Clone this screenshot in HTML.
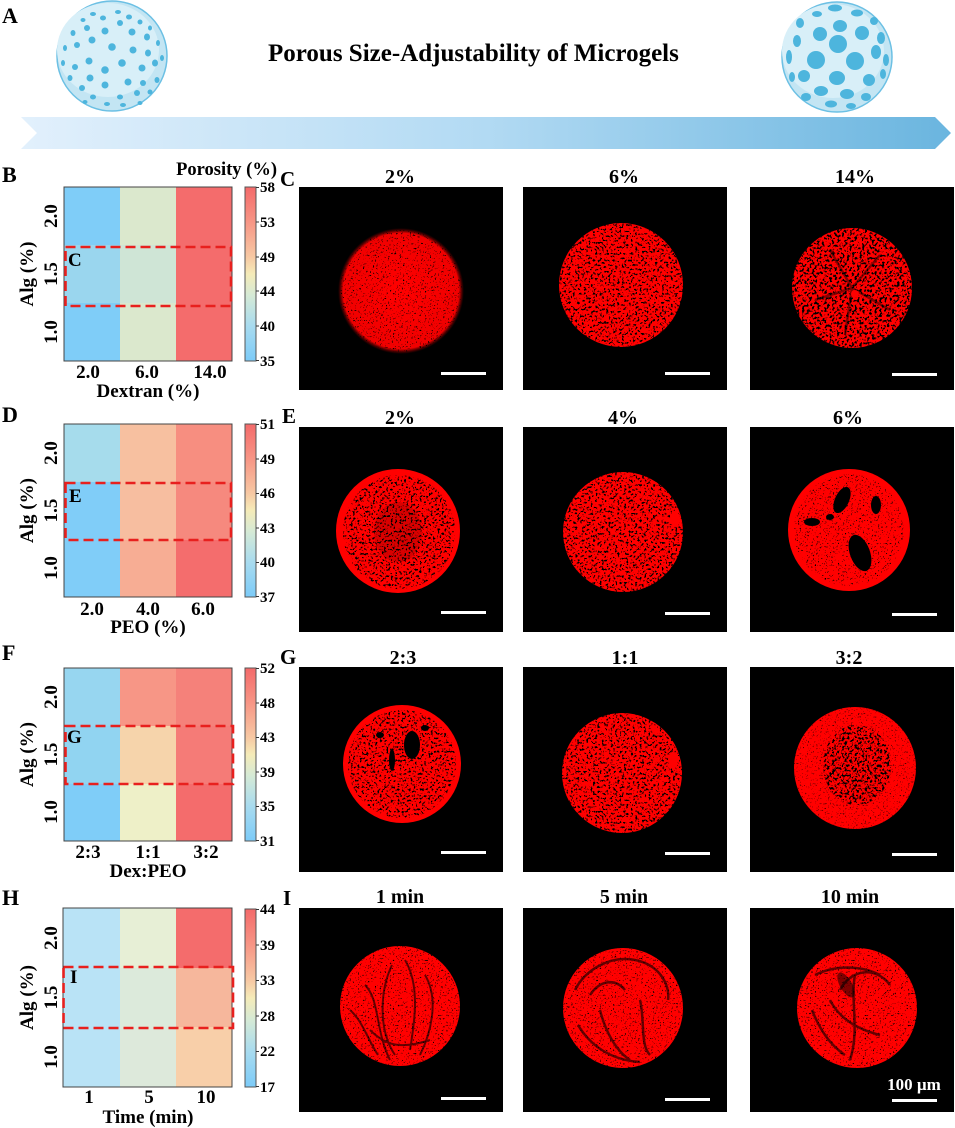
<!DOCTYPE html>
<html>
<head>
<meta charset="utf-8">
<style>
html,body{margin:0;padding:0;background:#fff;}
body{width:955px;height:1128px;overflow:hidden;}
svg{display:block;}
text{font-family:"Liberation Serif","Times New Roman",serif;font-weight:bold;}
</style>
</head>
<body>
<svg width="955" height="1128" viewBox="0 0 955 1128" xmlns="http://www.w3.org/2000/svg">
<defs>
  <linearGradient id="arrowG" x1="0" y1="0" x2="1" y2="0">
    <stop offset="0" stop-color="#e2f0fc"/>
    <stop offset="0.5" stop-color="#b2daf3"/>
    <stop offset="1" stop-color="#6ab5df"/>
  </linearGradient>
  <linearGradient id="cbar" x1="0" y1="0" x2="0" y2="1">
    <stop offset="0" stop-color="#f46a6a"/>
    <stop offset="0.2" stop-color="#f79585"/>
    <stop offset="0.4" stop-color="#f7c8a3"/>
    <stop offset="0.5" stop-color="#f5ebb8"/>
    <stop offset="0.62" stop-color="#d6ead5"/>
    <stop offset="0.8" stop-color="#a8dbef"/>
    <stop offset="1" stop-color="#7ccbf8"/>
  </linearGradient>
  <radialGradient id="fuzz" cx="0.5" cy="0.5" r="0.5">
    <stop offset="0" stop-color="#ff0000"/>
    <stop offset="0.92" stop-color="#f00000"/>
    <stop offset="1" stop-color="#800000" stop-opacity="0"/>
  </radialGradient>
  <filter id="fL" x="0" y="0" width="1" height="1">
    <feTurbulence type="fractalNoise" baseFrequency="0.6" numOctaves="2" seed="2"/>
    <feColorMatrix type="matrix" values="0 0 0 0 0 0 0 0 0 0 0 0 0 0 0 12 0 0 0 -7.8"/>
  </filter>
  <filter id="fM" x="0" y="0" width="1" height="1">
    <feTurbulence type="fractalNoise" baseFrequency="0.45" numOctaves="2" seed="5"/>
    <feColorMatrix type="matrix" values="0 0 0 0 0 0 0 0 0 0 0 0 0 0 0 12 0 0 0 -6.9"/>
  </filter>
  <filter id="fH" x="0" y="0" width="1" height="1">
    <feTurbulence type="fractalNoise" baseFrequency="0.4" numOctaves="2" seed="9"/>
    <feColorMatrix type="matrix" values="0 0 0 0 0 0 0 0 0 0 0 0 0 0 0 12 0 0 0 -6.4"/>
  </filter>
  <clipPath id="c1"><circle cx="401" cy="291" r="61"/></clipPath>
  <clipPath id="c2"><circle cx="621" cy="285" r="62"/></clipPath>
  <clipPath id="c3"><circle cx="852" cy="288" r="60"/></clipPath>
  <clipPath id="e1"><circle cx="398" cy="531" r="62"/></clipPath>
  <clipPath id="e1i"><ellipse cx="399" cy="532" rx="56" ry="57"/></clipPath>
  <clipPath id="e2"><circle cx="623" cy="532" r="60"/></clipPath>
  <clipPath id="e3"><circle cx="849" cy="530" r="61"/></clipPath>
  <clipPath id="e3i"><ellipse cx="849" cy="530" rx="55" ry="56"/></clipPath>
  <clipPath id="g1"><circle cx="402" cy="764" r="59"/></clipPath>
  <clipPath id="g1i"><ellipse cx="402" cy="764" rx="54" ry="54"/></clipPath>
  <clipPath id="g2"><circle cx="622" cy="773" r="60"/></clipPath>
  <clipPath id="g3"><circle cx="855" cy="768" r="61"/></clipPath>
  <clipPath id="g3i"><ellipse cx="857" cy="765" rx="34" ry="40"/></clipPath>
  <clipPath id="i1"><circle cx="400" cy="1006" r="60"/></clipPath>
  <clipPath id="i2"><circle cx="623" cy="1008" r="60"/></clipPath>
  <clipPath id="i3"><circle cx="857" cy="1008" r="60"/></clipPath>
</defs>

<rect width="955" height="1128" fill="#fff"/>

<!-- ============ Panel A ============ -->
<text x="2" y="23" font-size="22">A</text>
<text x="268" y="61" font-size="25">Porous Size-Adjustability of Microgels</text>
<polygon points="21,117 935,117 951,133 935,149 21,149 37,133" fill="url(#arrowG)"/>

<!-- left sphere -->
<circle cx="112" cy="56" r="55" fill="#c3e5f3" stroke="#6cc0e4" stroke-width="1.5"/>
<ellipse cx="108" cy="50" rx="51" ry="47" fill="#d8eff8"/>
<g fill="#4db5dd">
  <ellipse cx="83" cy="20" rx="2.5" ry="2"/><ellipse cx="93" cy="14" rx="3" ry="2"/><ellipse cx="103" cy="18" rx="3" ry="2.5"/>
  <ellipse cx="118" cy="12" rx="3" ry="2"/><ellipse cx="129" cy="17" rx="3" ry="2.5"/><ellipse cx="140" cy="22" rx="2.5" ry="2.5"/>
  <ellipse cx="150" cy="28" rx="2" ry="2.5"/><ellipse cx="73" cy="33" rx="2.5" ry="3"/><ellipse cx="87" cy="28" rx="3" ry="3"/>
  <ellipse cx="105" cy="31" rx="3.5" ry="3.5"/><ellipse cx="120" cy="23" rx="3" ry="3"/><ellipse cx="132" cy="32" rx="3.5" ry="3.5"/>
  <ellipse cx="147" cy="37" rx="3" ry="3.5"/><ellipse cx="158" cy="43" rx="2" ry="3"/><ellipse cx="65" cy="48" rx="2" ry="3"/>
  <ellipse cx="77" cy="45" rx="3" ry="3"/><ellipse cx="92" cy="40" rx="3.5" ry="3.5"/><ellipse cx="112" cy="47" rx="3.8" ry="3.8"/>
  <ellipse cx="133" cy="50" rx="3.5" ry="3.5"/><ellipse cx="148" cy="53" rx="3" ry="3.5"/><ellipse cx="162" cy="58" rx="2" ry="3"/>
  <ellipse cx="63" cy="63" rx="2" ry="3"/><ellipse cx="75" cy="67" rx="3" ry="3"/><ellipse cx="89" cy="61" rx="3.5" ry="3.5"/>
  <ellipse cx="105" cy="70" rx="3.8" ry="3.8"/><ellipse cx="122" cy="63" rx="3.8" ry="3.8"/><ellipse cx="142" cy="68" rx="3.5" ry="3.5"/>
  <ellipse cx="155" cy="63" rx="3" ry="3.5"/><ellipse cx="70" cy="78" rx="2.5" ry="3"/><ellipse cx="82" cy="88" rx="3" ry="3"/>
  <ellipse cx="90" cy="78" rx="3.5" ry="3.5"/><ellipse cx="105" cy="85" rx="3.5" ry="3.5"/><ellipse cx="128" cy="82" rx="3.5" ry="3.5"/>
  <ellipse cx="143" cy="83" rx="3" ry="3"/><ellipse cx="157" cy="80" rx="2.5" ry="3"/><ellipse cx="93" cy="97" rx="3" ry="2.5"/>
  <ellipse cx="120" cy="97" rx="3" ry="2.5"/><ellipse cx="137" cy="93" rx="3" ry="3"/><ellipse cx="150" cy="92" rx="2.5" ry="2.5"/>
  <ellipse cx="107" cy="104" rx="3" ry="2"/><ellipse cx="123" cy="105" rx="3" ry="2"/><ellipse cx="85" cy="102" rx="2.5" ry="2"/>
  <ellipse cx="140" cy="103" rx="2.5" ry="2"/>
</g>

<!-- right sphere -->
<circle cx="837" cy="57" r="55" fill="#c3e5f3" stroke="#6cc0e4" stroke-width="1.5"/>
<ellipse cx="833" cy="51" rx="51" ry="47" fill="#d8eff8"/>
<g fill="#4db5dd">
  <ellipse cx="835" cy="8" rx="7" ry="3.5"/><ellipse cx="817" cy="14" rx="5" ry="3"/><ellipse cx="857" cy="13" rx="6" ry="3.5"/>
  <ellipse cx="874" cy="21" rx="4" ry="4"/><ellipse cx="800" cy="23" rx="4" ry="5"/><ellipse cx="840" cy="26" rx="7" ry="6"/>
  <ellipse cx="820" cy="34" rx="7" ry="7"/><ellipse cx="862" cy="33" rx="7" ry="7"/><ellipse cx="881" cy="38" rx="4" ry="6"/>
  <ellipse cx="797" cy="41" rx="4" ry="6"/><ellipse cx="838" cy="44" rx="9" ry="9"/><ellipse cx="876" cy="52" rx="5" ry="7"/>
  <ellipse cx="789" cy="57" rx="3" ry="7"/><ellipse cx="816" cy="60" rx="9" ry="9"/><ellipse cx="855" cy="61" rx="9" ry="9"/>
  <ellipse cx="886" cy="60" rx="3" ry="6"/><ellipse cx="804" cy="76" rx="6" ry="6"/><ellipse cx="837" cy="78" rx="8" ry="7"/>
  <ellipse cx="869" cy="80" rx="6" ry="6"/><ellipse cx="883" cy="74" rx="3" ry="5"/><ellipse cx="792" cy="77" rx="3" ry="5"/>
  <ellipse cx="821" cy="91" rx="7" ry="5"/><ellipse cx="847" cy="94" rx="7" ry="5"/><ellipse cx="866" cy="97" rx="5" ry="4"/>
  <ellipse cx="806" cy="97" rx="5" ry="4"/><ellipse cx="831" cy="104" rx="6" ry="3.5"/><ellipse cx="851" cy="106" rx="5" ry="3"/>
</g>

<!-- ============ Heatmaps (left column) ============ -->
<g font-size="19">
<!-- B -->
<text x="2" y="182" font-size="22">B</text>
<text x="277" y="175" text-anchor="end" font-size="18.5">Porosity (%)</text>
<rect x="64" y="187" width="56" height="58" fill="#7fcdf8"/>
<rect x="120" y="187" width="56" height="58" fill="#dbe8cd"/>
<rect x="176" y="187" width="56" height="58" fill="#f46c6c"/>
<rect x="64" y="245" width="56" height="58" fill="#9ad6ee"/>
<rect x="120" y="245" width="56" height="58" fill="#cfe5d6"/>
<rect x="176" y="245" width="56" height="58" fill="#f46c6c"/>
<rect x="64" y="303" width="56" height="58" fill="#7fcdf8"/>
<rect x="120" y="303" width="56" height="58" fill="#dbe8cd"/>
<rect x="176" y="303" width="56" height="58" fill="#f46c6c"/>
<rect x="64" y="187" width="168" height="174" fill="none" stroke="#444" stroke-width="1"/>
<rect x="65.5" y="247" width="165.5" height="59" fill="none" stroke="#e8201e" stroke-width="2.6" stroke-dasharray="10 5"/>
<text x="68" y="266">C</text>
<text x="88" y="378" text-anchor="middle">2.0</text>
<text x="147" y="378" text-anchor="middle">6.0</text>
<text x="210" y="378" text-anchor="middle">14.0</text>
<text x="148" y="397" text-anchor="middle">Dextran (%)</text>
<text transform="translate(57,216) rotate(-90)" text-anchor="middle">2.0</text>
<text transform="translate(57,274) rotate(-90)" text-anchor="middle">1.5</text>
<text transform="translate(57,332) rotate(-90)" text-anchor="middle">1.0</text>
<text transform="translate(33,274) rotate(-90)" text-anchor="middle">Alg (%)</text>
<rect x="245" y="187" width="11" height="174" fill="url(#cbar)" stroke="#555" stroke-width="1"/>
<g stroke="#333" stroke-width="1"><line x1="256" y1="187.5" x2="259" y2="187.5"/><line x1="256" y1="222" x2="259" y2="222"/><line x1="256" y1="257" x2="259" y2="257"/><line x1="256" y1="291" x2="259" y2="291"/><line x1="256" y1="326" x2="259" y2="326"/><line x1="256" y1="360.5" x2="259" y2="360.5"/></g>
<g font-size="15"><text x="260" y="192">58</text><text x="260" y="227">53</text><text x="260" y="262">49</text><text x="260" y="296">44</text><text x="260" y="331">40</text><text x="260" y="366">35</text></g>

<!-- D -->
<text x="2" y="422" font-size="22">D</text>
<rect x="64" y="424" width="56" height="58" fill="#a6dcec"/>
<rect x="120" y="424" width="56" height="58" fill="#f7c0a0"/>
<rect x="176" y="424" width="56" height="58" fill="#f78e80"/>
<rect x="64" y="482" width="56" height="58" fill="#80cdf8"/>
<rect x="120" y="482" width="56" height="58" fill="#f7bea0"/>
<rect x="176" y="482" width="56" height="58" fill="#f6897e"/>
<rect x="64" y="540" width="56" height="57" fill="#80cdf8"/>
<rect x="120" y="540" width="56" height="57" fill="#f7ad94"/>
<rect x="176" y="540" width="56" height="57" fill="#f46d6d"/>
<rect x="64" y="424" width="168" height="173" fill="none" stroke="#444" stroke-width="1"/>
<rect x="65.5" y="483" width="165.5" height="57" fill="none" stroke="#e8201e" stroke-width="2.6" stroke-dasharray="10 5"/>
<text x="69" y="502">E</text>
<text x="92" y="615" text-anchor="middle">2.0</text>
<text x="148" y="615" text-anchor="middle">4.0</text>
<text x="203" y="615" text-anchor="middle">6.0</text>
<text x="148" y="633" text-anchor="middle">PEO (%)</text>
<text transform="translate(57,453) rotate(-90)" text-anchor="middle">2.0</text>
<text transform="translate(57,510.5) rotate(-90)" text-anchor="middle">1.5</text>
<text transform="translate(57,568) rotate(-90)" text-anchor="middle">1.0</text>
<text transform="translate(33,510.5) rotate(-90)" text-anchor="middle">Alg (%)</text>
<rect x="245" y="424" width="11" height="173" fill="url(#cbar)" stroke="#555" stroke-width="1"/>
<g stroke="#333" stroke-width="1"><line x1="256" y1="424.5" x2="259" y2="424.5"/><line x1="256" y1="459" x2="259" y2="459"/><line x1="256" y1="493.5" x2="259" y2="493.5"/><line x1="256" y1="528" x2="259" y2="528"/><line x1="256" y1="562.5" x2="259" y2="562.5"/><line x1="256" y1="596.5" x2="259" y2="596.5"/></g>
<g font-size="15"><text x="260" y="429">51</text><text x="260" y="464">49</text><text x="260" y="498">46</text><text x="260" y="533">43</text><text x="260" y="567">40</text><text x="260" y="602">37</text></g>

<!-- F -->
<text x="2" y="660" font-size="22">F</text>
<rect x="64" y="668" width="56" height="58" fill="#97d6f0"/>
<rect x="120" y="668" width="56" height="58" fill="#f79686"/>
<rect x="176" y="668" width="56" height="58" fill="#f5817a"/>
<rect x="64" y="726" width="56" height="58" fill="#91d4f1"/>
<rect x="120" y="726" width="56" height="58" fill="#f6d4ab"/>
<rect x="176" y="726" width="56" height="58" fill="#f57b77"/>
<rect x="64" y="784" width="56" height="57" fill="#7fcdf8"/>
<rect x="120" y="784" width="56" height="57" fill="#eef0c8"/>
<rect x="176" y="784" width="56" height="57" fill="#f46c6c"/>
<rect x="64" y="668" width="168" height="173" fill="none" stroke="#444" stroke-width="1"/>
<rect x="65.5" y="726" width="167.5" height="58" fill="none" stroke="#e8201e" stroke-width="2.6" stroke-dasharray="10 5"/>
<text x="67" y="743">G</text>
<text x="88" y="858" text-anchor="middle">2:3</text>
<text x="148" y="858" text-anchor="middle">1:1</text>
<text x="206" y="858" text-anchor="middle">3:2</text>
<text x="148" y="877" text-anchor="middle">Dex:PEO</text>
<text transform="translate(57,697) rotate(-90)" text-anchor="middle">2.0</text>
<text transform="translate(57,754.5) rotate(-90)" text-anchor="middle">1.5</text>
<text transform="translate(57,812) rotate(-90)" text-anchor="middle">1.0</text>
<text transform="translate(33,754.5) rotate(-90)" text-anchor="middle">Alg (%)</text>
<rect x="245" y="668" width="11" height="173" fill="url(#cbar)" stroke="#555" stroke-width="1"/>
<g stroke="#333" stroke-width="1"><line x1="256" y1="668.5" x2="259" y2="668.5"/><line x1="256" y1="703" x2="259" y2="703"/><line x1="256" y1="737.5" x2="259" y2="737.5"/><line x1="256" y1="772" x2="259" y2="772"/><line x1="256" y1="806.5" x2="259" y2="806.5"/><line x1="256" y1="840.5" x2="259" y2="840.5"/></g>
<g font-size="15"><text x="260" y="673">52</text><text x="260" y="708">48</text><text x="260" y="742">43</text><text x="260" y="777">39</text><text x="260" y="811">35</text><text x="260" y="846">31</text></g>

<!-- H -->
<text x="2" y="905" font-size="22">H</text>
<rect x="63" y="908" width="57" height="60" fill="#b9e3f6"/>
<rect x="120" y="908" width="56" height="60" fill="#e7efd6"/>
<rect x="176" y="908" width="56" height="60" fill="#f46c6c"/>
<rect x="63" y="968" width="57" height="59" fill="#b9e3f6"/>
<rect x="120" y="968" width="56" height="59" fill="#dceadb"/>
<rect x="176" y="968" width="56" height="59" fill="#f6b79c"/>
<rect x="63" y="1027" width="57" height="60" fill="#b9e3f6"/>
<rect x="120" y="1027" width="56" height="60" fill="#dde9db"/>
<rect x="176" y="1027" width="56" height="60" fill="#f8cfa9"/>
<rect x="63" y="908" width="169" height="179" fill="none" stroke="#444" stroke-width="1"/>
<rect x="63.5" y="967" width="169.5" height="61" fill="none" stroke="#e8201e" stroke-width="2.6" stroke-dasharray="10 5"/>
<text x="70" y="983">I</text>
<text x="89" y="1103" text-anchor="middle">1</text>
<text x="149" y="1103" text-anchor="middle">5</text>
<text x="206" y="1103" text-anchor="middle">10</text>
<text x="148" y="1123" text-anchor="middle">Time (min)</text>
<text transform="translate(57,938) rotate(-90)" text-anchor="middle">2.0</text>
<text transform="translate(57,997.5) rotate(-90)" text-anchor="middle">1.5</text>
<text transform="translate(57,1057) rotate(-90)" text-anchor="middle">1.0</text>
<text transform="translate(33,997.5) rotate(-90)" text-anchor="middle">Alg (%)</text>
<rect x="245" y="909" width="11" height="178" fill="url(#cbar)" stroke="#555" stroke-width="1"/>
<g stroke="#333" stroke-width="1"><line x1="256" y1="909.5" x2="259" y2="909.5"/><line x1="256" y1="945" x2="259" y2="945"/><line x1="256" y1="980.5" x2="259" y2="980.5"/><line x1="256" y1="1016" x2="259" y2="1016"/><line x1="256" y1="1051.5" x2="259" y2="1051.5"/><line x1="256" y1="1086.5" x2="259" y2="1086.5"/></g>
<g font-size="15"><text x="260" y="914">44</text><text x="260" y="950">39</text><text x="260" y="985">33</text><text x="260" y="1021">28</text><text x="260" y="1056">22</text><text x="260" y="1092">17</text></g>
</g>

<!-- ============ Image panels ============ -->
<g font-size="20" text-anchor="middle">
  <text x="400" y="183">2%</text><text x="624" y="183">6%</text><text x="855" y="183">14%</text>
  <text x="400" y="424">2%</text><text x="623" y="424">4%</text><text x="848" y="424">6%</text>
  <text x="403" y="664">2:3</text><text x="625" y="664">1:1</text><text x="849" y="664">3:2</text>
  <text x="400" y="903">1 min</text><text x="624" y="903">5 min</text><text x="850" y="903">10 min</text>
</g>
<g font-size="21">
  <text x="280" y="186">C</text>
  <text x="282" y="423">E</text>
  <text x="280" y="664">G</text>
  <text x="283" y="905">I</text>
</g>

<!-- black boxes -->
<g fill="#000">
  <rect x="299" y="187" width="204" height="203"/><rect x="523" y="187" width="204" height="203"/><rect x="750" y="187" width="204" height="203"/>
  <rect x="299" y="427" width="204" height="205"/><rect x="523" y="427" width="204" height="205"/><rect x="750" y="427" width="204" height="205"/>
  <rect x="299" y="667" width="204" height="205"/><rect x="523" y="667" width="204" height="205"/><rect x="750" y="667" width="204" height="205"/>
  <rect x="299" y="908" width="204" height="204"/><rect x="523" y="908" width="204" height="204"/><rect x="750" y="908" width="204" height="204"/>
</g>

<!-- C row -->
<circle cx="401" cy="291" r="63" fill="url(#fuzz)"/>
<g clip-path="url(#c1)"><rect x="338" y="228" width="126" height="126" filter="url(#fL)"/></g>
<g clip-path="url(#c2)"><rect x="559" y="223" width="124" height="124" fill="#f00"/><rect x="559" y="223" width="124" height="124" filter="url(#fM)"/></g>
<g clip-path="url(#c3)"><rect x="792" y="228" width="120" height="120" fill="#f00"/><rect x="792" y="228" width="120" height="120" filter="url(#fH)"/>
  <g stroke="#000" stroke-width="2.5" opacity="0.45"><line x1="852" y1="288" x2="830" y2="250"/><line x1="852" y1="288" x2="880" y2="255"/><line x1="852" y1="288" x2="815" y2="300"/><line x1="852" y1="288" x2="890" y2="310"/><line x1="852" y1="288" x2="845" y2="335"/></g>
  <circle cx="855" cy="294" r="4" fill="#f00"/>
</g>

<!-- E row -->
<g clip-path="url(#e1)"><rect x="336" y="469" width="124" height="124" fill="#f00"/>
  <g clip-path="url(#e1i)"><rect x="343" y="475" width="112" height="114" filter="url(#fM)"/>
  <ellipse cx="398" cy="532" rx="24" ry="30" fill="#000" opacity="0.15"/></g></g>
<g clip-path="url(#e2)"><rect x="563" y="472" width="120" height="120" fill="#f00"/><rect x="563" y="472" width="120" height="120" filter="url(#fM)"/>
  <ellipse cx="675" cy="519" rx="5" ry="8" fill="#f00"/></g>
<g clip-path="url(#e3)"><rect x="788" y="469" width="122" height="122" fill="#f00"/>
  <g clip-path="url(#e3i)"><rect x="794" y="474" width="110" height="112" filter="url(#fL)"/></g>
  <g fill="#000"><ellipse cx="842" cy="500" rx="7" ry="14" transform="rotate(25 842 500)"/><ellipse cx="860" cy="553" rx="10" ry="19" transform="rotate(-20 860 553)"/><ellipse cx="812" cy="522" rx="8" ry="4"/><ellipse cx="876" cy="505" rx="5" ry="9"/><ellipse cx="830" cy="517" rx="4" ry="3"/></g></g>

<!-- G row -->
<g clip-path="url(#g1)"><rect x="343" y="705" width="118" height="118" fill="#f00"/>
  <g clip-path="url(#g1i)"><rect x="348" y="710" width="108" height="108" filter="url(#fM)"/></g>
  <g fill="#000"><ellipse cx="412" cy="745" rx="8" ry="14"/><ellipse cx="392" cy="760" rx="3" ry="11"/><ellipse cx="380" cy="735" rx="4" ry="3"/><ellipse cx="425" cy="728" rx="4" ry="3"/></g></g>
<g clip-path="url(#g2)"><rect x="562" y="713" width="120" height="120" fill="#f00"/><rect x="562" y="713" width="120" height="120" filter="url(#fM)"/>
  <ellipse cx="673" cy="760" rx="5" ry="8" fill="#f00"/></g>
<g clip-path="url(#g3)"><rect x="794" y="707" width="122" height="122" fill="#f00"/>
  <rect x="794" y="707" width="122" height="122" filter="url(#fL)" opacity="0.7"/>
  <g clip-path="url(#g3i)"><rect x="822" y="724" width="70" height="82" filter="url(#fH)"/></g></g>

<!-- I row -->
<g clip-path="url(#i1)"><rect x="340" y="946" width="120" height="120" fill="#f00"/><rect x="340" y="946" width="120" height="120" filter="url(#fL)"/>
  <g fill="none" stroke="#000" stroke-width="2" opacity="0.6">
    <path d="M392 965 C380 990 378 1030 395 1055"/><path d="M405 960 C420 985 415 1020 410 1050"/>
    <path d="M365 985 C380 1000 375 1030 390 1060"/><path d="M425 975 C440 1000 430 1035 420 1055"/>
    <path d="M370 1030 C385 1045 400 1050 430 1040"/><path d="M350 1010 C362 1020 368 1040 378 1055"/></g></g>
<g clip-path="url(#i2)"><rect x="563" y="948" width="120" height="120" fill="#f00"/><rect x="563" y="948" width="120" height="120" filter="url(#fL)"/>
  <g fill="none" stroke="#000" stroke-width="2.5" opacity="0.6">
    <path d="M575 990 C585 970 610 955 635 960 C660 965 670 985 668 1000"/><path d="M590 995 C600 980 615 978 625 990"/>
    <path d="M600 1010 C605 1030 615 1050 630 1060"/><path d="M640 1000 C645 1020 640 1045 650 1055"/>
    <path d="M578 1025 C590 1045 610 1060 640 1062"/></g></g>
<g clip-path="url(#i3)"><rect x="797" y="948" width="120" height="120" fill="#f00"/><rect x="797" y="948" width="120" height="120" filter="url(#fL)"/>
  <g fill="none" stroke="#000" stroke-width="2.5" opacity="0.6">
    <path d="M815 975 C835 965 860 965 880 975"/><path d="M840 990 C850 970 875 965 890 985"/>
    <path d="M830 1000 C840 1020 860 1030 880 1035"/><path d="M855 975 C850 1000 860 1030 850 1060"/>
    <path d="M812 1010 C820 1030 830 1045 845 1055"/></g>
  <ellipse cx="846" cy="985" rx="6" ry="14" fill="#000" opacity="0.5" transform="rotate(-30 846 985)"/></g>

<!-- scale bars -->
<g fill="#fff">
  <rect x="441" y="372" width="45" height="3"/><rect x="665" y="372" width="45" height="3"/><rect x="892" y="373" width="45" height="3"/>
  <rect x="441" y="611" width="45" height="3"/><rect x="665" y="612" width="45" height="3"/><rect x="892" y="613" width="45" height="3"/>
  <rect x="441" y="851" width="45" height="3"/><rect x="665" y="852" width="45" height="3"/><rect x="892" y="853" width="45" height="3"/>
  <rect x="441" y="1097" width="45" height="3"/><rect x="665" y="1098" width="45" height="3"/><rect x="892" y="1099" width="45" height="3"/>
</g>
<text x="914" y="1090" font-size="17" fill="#fff" text-anchor="middle">100 µm</text>
</svg>
</body>
</html>
